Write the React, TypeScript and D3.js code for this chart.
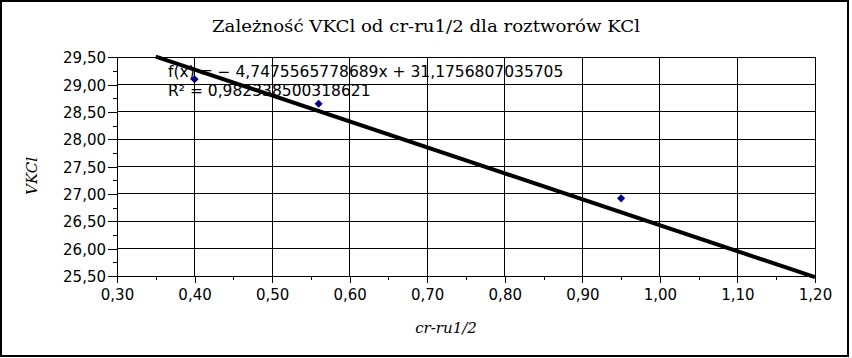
import React, { useEffect, useRef } from "react";
import * as d3 from "d3";

// measured points
const xValues = [0.4, 0.56, 0.95];
const yValues = [29.1, 28.65, 26.92];

// linear trendline as reported on the chart
const slope = -4.7475565778689;
const intercept = 31.1756807035705;
const rSquared = 0.982338500318621;
const trendRange = [0.35, 1.2];

const xTicks = [0.3, 0.4, 0.5, 0.6, 0.7, 0.8, 0.9, 1.0, 1.1, 1.2];
const xMinorTicks = [0.35, 0.45, 0.55, 0.65, 0.75, 0.85, 0.95, 1.05, 1.15];
const yTicks = [25.5, 26.0, 26.5, 27.0, 27.5, 28.0, 28.5, 29.0, 29.5];
const yMinorTicks = [25.75, 26.25, 26.75, 27.25, 27.75, 28.25, 28.75, 29.25];

const title = "Zależność VKCl od cr-ru1/2 dla roztworów KCl";
const xTitle = "cr-ru1/2";
const yTitle = "VKCl";

const W = 852, H = 358;
const plot = { left: 117, right: 815, top: 57.3, bottom: 276 };

const locale = d3.formatLocale({ decimal: ",", thousands: " ", grouping: [3], currency: ["", " zł"] });
const fmt2 = locale.format(".2f");
const comma = (v: number) => String(v).replace(".", ",");

export default function App() {
  const ref = useRef<SVGSVGElement | null>(null);

  useEffect(() => {
    const svg = d3.select(ref.current);
    svg.selectAll("*").remove();

    const x = d3.scaleLinear().domain([0.3, 1.2]).range([plot.left, plot.right]);
    const y = d3.scaleLinear().domain([25.5, 29.5]).range([plot.bottom, plot.top]);

    svg.append("rect").attr("width", W).attr("height", H).attr("fill", "#fff");
    svg.append("rect")
      .attr("x", 1).attr("y", 1).attr("width", 847).attr("height", 355)
      .attr("fill", "none").attr("stroke", "#000").attr("stroke-width", 2);

    // grid
    const grid = svg.append("g").attr("stroke", "#000").attr("stroke-width", 1).attr("shape-rendering", "crispEdges");
    grid.selectAll(".gy").data(yTicks).enter().append("line")
      .attr("x1", plot.left).attr("x2", plot.right)
      .attr("y1", d => y(d)).attr("y2", d => y(d));
    grid.selectAll(".gx").data(xTicks).enter().append("line")
      .attr("y1", plot.top).attr("y2", plot.bottom)
      .attr("x1", d => x(d)).attr("x2", d => x(d));

    // axes
    const styleAxis = (g: any) => {
      g.select(".domain").attr("stroke", "#000").attr("shape-rendering", "crispEdges");
      g.selectAll(".tick line").attr("stroke", "#000").attr("shape-rendering", "crispEdges");
      g.selectAll(".tick text").attr("fill", "#000")
        .attr("font-family", "DejaVu Sans").attr("font-size", 15);
    };
    const yAxis = svg.append("g").attr("transform", `translate(${plot.left},0)`)
      .call(d3.axisLeft(y).tickValues(yTicks).tickSize(9).tickSizeOuter(0).tickPadding(2).tickFormat(d => fmt2(d as number)));
    styleAxis(yAxis);
    yAxis.selectAll(".tick text").attr("dy", "0.36em");
    const yMinor = svg.append("g").attr("transform", `translate(${plot.left},0)`)
      .call(d3.axisLeft(y).tickValues(yMinorTicks).tickSize(4).tickSizeOuter(0).tickFormat(() => ""));
    styleAxis(yMinor);
    yMinor.select(".domain").remove();

    const xAxis = svg.append("g").attr("transform", `translate(0,${plot.bottom})`)
      .call(d3.axisBottom(x).tickValues(xTicks).tickSize(7).tickSizeOuter(0).tickPadding(6).tickFormat(d => fmt2(d as number)));
    styleAxis(xAxis);
    const xMinor = svg.append("g").attr("transform", `translate(0,${plot.bottom})`)
      .call(d3.axisBottom(x).tickValues(xMinorTicks).tickSize(4).tickSizeOuter(0).tickFormat(() => ""));
    styleAxis(xMinor);
    xMinor.select(".domain").remove();

    // equation label
    const eq = svg.append("g").attr("font-family", "DejaVu Sans").attr("font-size", 15.5).attr("fill", "#000");
    eq.append("text").attr("x", 168).attr("y", 77)
      .text(`f(x) = − ${comma(Math.abs(slope))}x + ${comma(intercept)}`);
    eq.append("text").attr("x", 168).attr("y", 96)
      .text(`R² = ${comma(rSquared)}`);

    // trendline
    const line = d3.line<number>().x(d => x(d)).y(d => y(slope * d + intercept));
    svg.append("path").datum(trendRange)
      .attr("d", line).attr("fill", "none").attr("stroke", "#000").attr("stroke-width", 4);

    // points
    const diamond = d3.symbol().type(d3.symbolDiamond2).size(42);
    svg.selectAll(".pt").data(xValues).enter().append("path")
      .attr("d", diamond)
      .attr("transform", (d, i) => `translate(${x(d)},${y(yValues[i])})`)
      .attr("fill", "#000080");

    // titles
    svg.append("text").attr("x", 426).attr("y", 32).attr("text-anchor", "middle")
      .attr("font-family", "DejaVu Serif").attr("font-size", 16.5)
      .attr("textLength", 428).attr("lengthAdjust", "spacingAndGlyphs").text(title);
    svg.append("text").attr("x", 446).attr("y", 333).attr("text-anchor", "middle")
      .attr("font-family", "DejaVu Serif").attr("font-style", "italic").attr("font-size", 15).text(xTitle);
    svg.append("text").attr("transform", "translate(37,176) rotate(-90)").attr("text-anchor", "middle")
      .attr("font-family", "DejaVu Serif").attr("font-style", "italic").attr("font-size", 15).text(yTitle);
  }, []);

  return (
    <div style={{ position: "absolute", left: 0, top: 0 }}>
      <svg ref={ref} width={W} height={H} style={{ display: "block" }} />
    </div>
  );
}
